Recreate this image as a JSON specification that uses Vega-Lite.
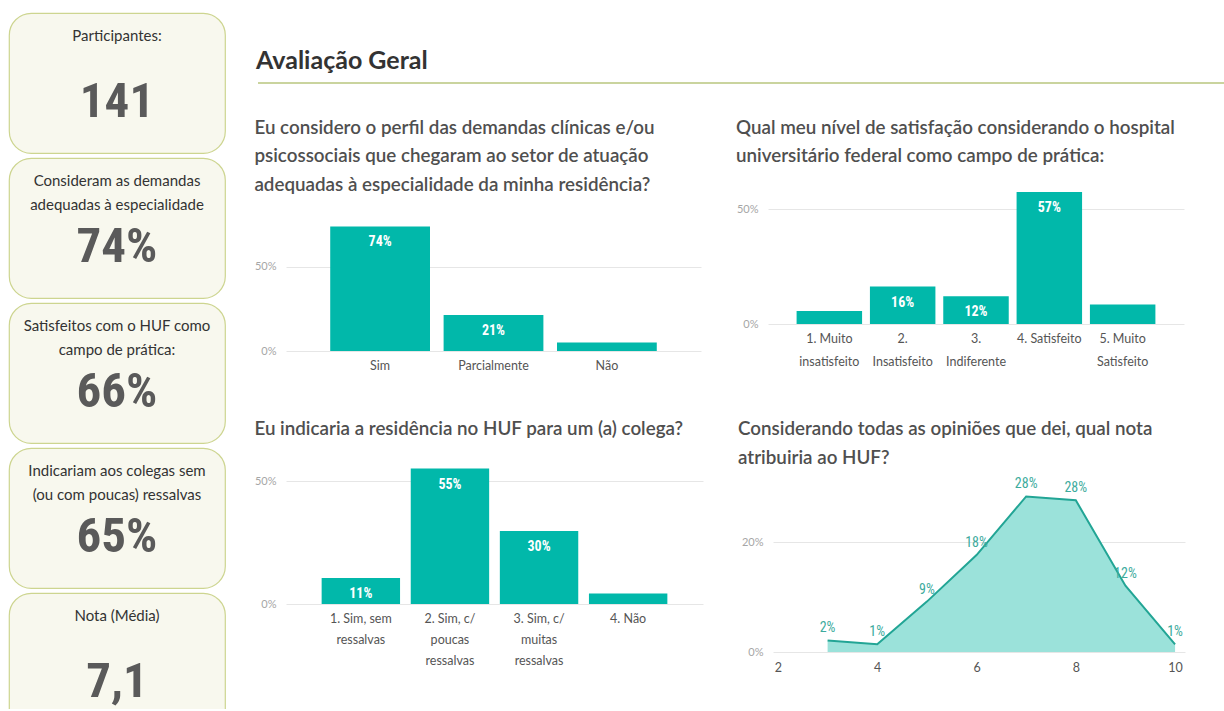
{
  "$schema": "https://vega.github.io/schema/vega-lite/v6.json",
  "background": "white",
  "padding": {"left": 8, "top": 12, "right": 0, "bottom": -25},
  "config": {
    "font": "Lato",
    "view": {"cornerRadius": 22, "fill": "#f8f8ee", "stroke": "#cdd590", "strokeWidth": 1.2},
    "style": {"cell": {"cornerRadius": 22, "fill": "#f8f8ee", "stroke": "#cdd590", "strokeWidth": 1.2}},
    "axis": {"labelFont": "Lato", "domain": false, "ticks": false, "title": null},
    "axisY": {"grid": true, "gridColor": "#e6e6e6", "labelColor": "#a6a6a6", "labelFontSize": 11, "labelPadding": 10},
    "axisX": {"grid": false, "labelColor": "#555555", "labelFontSize": 12.5, "labelPadding": 8, "labelLineHeight": 21},
    "title": {"anchor": "start", "fontSize": 18.8, "font": "Lato", "fontWeight": 600, "color": "#4f4f4f", "lineHeight": 28.5, "offset": 14, "frame": "bounds"}
  },
  "spacing": 28,
  "hconcat": [
    {
      "data": {"values": [
        {"card": 1, "label": "Participantes:", "valor": "141"},
        {"card": 2, "label": "Consideram as demandas\nadequadas à especialidade", "valor": "74%"},
        {"card": 3, "label": "Satisfeitos com o HUF como\ncampo de prática:", "valor": "66%"},
        {"card": 4, "label": "Indicariam aos colegas sem\n(ou com poucas) ressalvas", "valor": "65%"},
        {"card": 5, "label": "Nota (Média)", "valor": "7,1"}
      ]},
      "facet": {"row": {"field": "card", "type": "ordinal", "header": null}},
      "spacing": {"row": 3},
      "spec": {
        "width": 216,
        "height": 140,
        "view": {"cornerRadius": 22, "fill": "#f8f8ee", "stroke": "#cdd590", "strokeWidth": 1.2},
        "layer": [
          {"mark": {"type": "text", "baseline": "top", "dy": -54, "fontSize": 15, "lineBreak": "\n", "lineHeight": 24, "color": "#333333", "font": "Lato"},
           "encoding": {"text": {"field": "label"}}},
          {"mark": {"type": "text", "baseline": "middle", "dy": 19, "fontSize": 49, "fontWeight": "bold", "font": "Roboto Condensed, DejaVu Sans Condensed, Roboto", "color": "#5a5a5a"},
           "encoding": {"text": {"field": "valor"}}}
        ]
      }
    },
    {
      "spacing": 34,
      "vconcat": [
        {
          "width": 938,
          "height": 70,
          "view": {"stroke": null, "fill": null},
          "data": {"values": [{"titulo": "Avaliação Geral"}]},
          "layer": [
            {"mark": {"type": "text", "align": "left", "baseline": "alphabetic", "fontSize": 25, "fontWeight": "bold", "font": "Lato", "color": "#333333"},
             "encoding": {
               "x": {"datum": -30, "type": "quantitative", "scale": {"domain": [0, 938], "nice": false, "zero": false}, "axis": null},
               "y": {"datum": 0.2, "type": "quantitative", "scale": {"domain": [0, 1]}, "axis": null},
               "text": {"field": "titulo"}}},
            {"mark": {"type": "rule", "color": "#b9c67e", "strokeWidth": 1.5},
             "encoding": {
               "x": {"datum": -28, "type": "quantitative"},
               "x2": {"datum": 938},
               "y": {"datum": 0, "type": "quantitative"}}}
          ]
        },
        {
          "spacing": 48,
          "vconcat": [
            {
              "spacing": 35,
              "hconcat": [
                {
                  "width": 415,
                  "height": 165,
                  "view": {"stroke": null, "fill": null},
                  "title": {"text": ["Eu considero o perfil das demandas clínicas e/ou", "psicossociais que chegaram ao setor de atuação", "adequadas à especialidade da minha residência?"], "offset": -8.5},
                  "data": {"values": [
                    {"resp": "Sim", "pct": 0.738},
                    {"resp": "Parcialmente", "pct": 0.213},
                    {"resp": "Não", "pct": 0.05}
                  ]},
                  "encoding": {
                    "x": {"field": "resp", "type": "nominal", "sort": null, "scale": {"paddingInner": 0.12, "paddingOuter": 0.39}, "axis": {"labelAngle": 0}},
                    "y": {"field": "pct", "type": "quantitative", "scale": {"domain": [0, 0.978], "nice": false}, "axis": {"values": [0, 0.5], "format": ".0%", "minExtent": 28, "maxExtent": 28}}
                  },
                  "layer": [
                    {"mark": {"type": "bar", "color": "#01b8aa"}},
                    {"mark": {"type": "text", "baseline": "middle", "dy": 16, "color": "white", "font": "Roboto Condensed, DejaVu Sans Condensed, Roboto", "fontWeight": "bold", "fontSize": 14},
                     "encoding": {"text": {"condition": {"test": "datum.pct >= 0.1", "field": "pct", "type": "quantitative", "format": ".0%"}, "value": ""}}}
                  ]
                },
                {
                  "width": 416,
                  "height": 138,
                  "view": {"stroke": null, "fill": null},
                  "title": {"text": ["Qual meu nível de satisfação considerando o hospital", "universitário federal como campo de prática:"], "offset": 20},
                  "data": {"values": [
                    {"nivel": "1. Muito\ninsatisfeito", "pct": 0.057},
                    {"nivel": "2.\nInsatisfeito", "pct": 0.163},
                    {"nivel": "3.\nIndiferente", "pct": 0.121},
                    {"nivel": "4. Satisfeito", "pct": 0.574},
                    {"nivel": "5. Muito\nSatisfeito", "pct": 0.085}
                  ]},
                  "encoding": {
                    "x": {"field": "nivel", "type": "nominal", "sort": null, "scale": {"paddingInner": 0.107, "paddingOuter": 0.39}, "axis": {"labelAngle": 0, "labelExpr": "split(datum.value, '\\n')", "labelLineHeight": 23}},
                    "y": {"field": "pct", "type": "quantitative", "scale": {"domain": [0, 0.6], "nice": false}, "axis": {"values": [0, 0.5], "format": ".0%", "minExtent": 32, "maxExtent": 32}}
                  },
                  "layer": [
                    {"mark": {"type": "bar", "color": "#01b8aa"}},
                    {"mark": {"type": "text", "baseline": "middle", "dy": 16, "color": "white", "font": "Roboto Condensed, DejaVu Sans Condensed, Roboto", "fontWeight": "bold", "fontSize": 14},
                     "encoding": {"text": {"condition": {"test": "datum.pct >= 0.1", "field": "pct", "type": "quantitative", "format": ".0%"}, "value": ""}}}
                  ]
                }
              ]
            },
            {
              "spacing": 35,
              "hconcat": [
                {
                  "width": 417,
                  "height": 147,
                  "view": {"stroke": null, "fill": null},
                  "title": {"text": "Eu indicaria a residência no HUF para um (a) colega?", "offset": 18},
                  "data": {"values": [
                    {"resp": "1. Sim, sem\nressalvas", "pct": 0.106},
                    {"resp": "2. Sim, c/\npoucas\nressalvas", "pct": 0.553},
                    {"resp": "3. Sim, c/\nmuitas\nressalvas", "pct": 0.298},
                    {"resp": "4. Não", "pct": 0.043}
                  ]},
                  "encoding": {
                    "x": {"field": "resp", "type": "nominal", "sort": null, "scale": {"paddingInner": 0.12, "paddingOuter": 0.4}, "axis": {"labelAngle": 0, "labelExpr": "split(datum.value, '\\n')"}},
                    "y": {"field": "pct", "type": "quantitative", "scale": {"domain": [0, 0.6], "nice": false}, "axis": {"values": [0, 0.5], "format": ".0%", "minExtent": 26, "maxExtent": 26}}
                  },
                  "layer": [
                    {"mark": {"type": "bar", "color": "#01b8aa"}},
                    {"mark": {"type": "text", "baseline": "middle", "dy": 16, "color": "white", "font": "Roboto Condensed, DejaVu Sans Condensed, Roboto", "fontWeight": "bold", "fontSize": 14},
                     "encoding": {"text": {"condition": {"test": "datum.pct >= 0.1", "field": "pct", "type": "quantitative", "format": ".0%"}, "value": ""}}}
                  ]
                },
                {
                  "width": 412,
                  "height": 195,
                  "view": {"stroke": null, "fill": null},
                  "title": {"text": ["Considerando todas as opiniões que dei, qual nota", "atribuiria ao HUF?"], "offset": -10.5},
                  "data": {"values": [
                    {"nota": 3, "pct": 0.021},
                    {"nota": 4, "pct": 0.014},
                    {"nota": 5, "pct": 0.092},
                    {"nota": 6, "pct": 0.177},
                    {"nota": 7, "pct": 0.284},
                    {"nota": 8, "pct": 0.277},
                    {"nota": 9, "pct": 0.121},
                    {"nota": 10, "pct": 0.014}
                  ]},
                  "encoding": {
                    "x": {"field": "nota", "type": "quantitative", "scale": {"domain": [1.9, 10.2], "nice": false, "zero": false}, "axis": {"values": [2, 4, 6, 8, 10], "labelPadding": 9, "labelFlush": false}},
                    "y": {"field": "pct", "type": "quantitative", "scale": {"domain": [0, 0.356], "nice": false}, "axis": {"values": [0, 0.2], "format": ".0%", "minExtent": 35, "maxExtent": 35}}
                  },
                  "layer": [
                    {"mark": {"type": "area", "color": "#9be2da", "opacity": 1, "line": {"color": "#22a595", "strokeWidth": 2}}},
                    {"mark": {"type": "text", "baseline": "middle", "dy": -12, "color": "#3dab9d", "font": "Roboto Condensed, DejaVu Sans Condensed, Roboto", "fontSize": 14},
                     "encoding": {"text": {"field": "pct", "type": "quantitative", "format": ".0%"}}}
                  ]
                }
              ]
            }
          ]
        }
      ]
    }
  ]
}
